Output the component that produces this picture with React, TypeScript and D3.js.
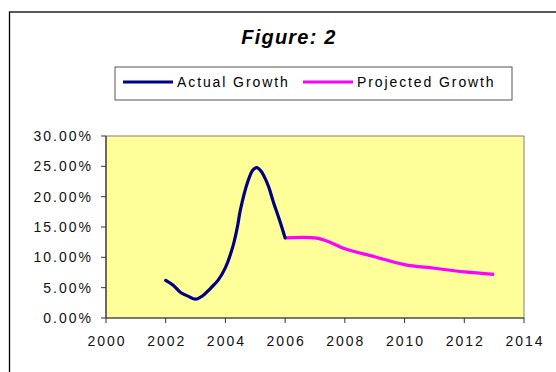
import React from "react";
import * as d3 from "d3";

const actualYears = [2002.0, 2002.25, 2002.5, 2002.75, 2003.0, 2003.25, 2003.5, 2003.75, 2004.0, 2004.25, 2004.4, 2004.5, 2004.75, 2004.92, 2005.05, 2005.18, 2005.3, 2005.45, 2005.6, 2005.8, 2006.0];
const actualValues = [6.2, 5.4, 4.2, 3.6, 3.1, 3.7, 4.9, 6.2, 8.3, 11.8, 15.0, 17.8, 22.5, 24.4, 24.8, 24.3, 23.3, 21.6, 19.2, 16.3, 13.2];
const projectedYears = [2006, 2007, 2007.5, 2008, 2009, 2010, 2011, 2012, 2013];
const projectedValues = [13.2, 13.2, 12.5, 11.4, 10.1, 8.8, 8.2, 7.6, 7.2];
const xTicks = [2000, 2002, 2004, 2006, 2008, 2010, 2012, 2014];
const yTicks = [0, 5, 10, 15, 20, 25, 30];
const seriesNames = ["Actual Growth", "Projected Growth"];
const seriesColors = ["#000080", "#FF00FF"];
const title = "Figure: 2";

const W = 556;
const H = 372;
const plot = { left: 106, right: 524, top: 136, bottom: 318 };
const FONT = "Arial, 'Liberation Sans', sans-serif";

export default function App() {
  const x = d3.scaleLinear().domain([2000, 2014]).range([plot.left, plot.right]);
  const y = d3.scaleLinear().domain([0, 30]).range([plot.bottom, plot.top]);
  const line = d3
    .line<[number, number]>()
    .x((d) => x(d[0]))
    .y((d) => y(d[1]))
    .curve(d3.curveCatmullRom.alpha(0.5));
  const actual = actualYears.map((yr, i) => [yr, actualValues[i]] as [number, number]);
  const projected = projectedYears.map((yr, i) => [yr, projectedValues[i]] as [number, number]);

  const legend = [
    { x1: 123, x2: 173, tx: 177 },
    { x1: 303, x2: 353, tx: 357 },
  ];

  return (
    <svg width={W} height={H} style={{ position: "absolute", left: 0, top: 0, background: "#fff" }}>
      <rect x={9.5} y={12} width={700} height={500} fill="#fff" stroke="#000" strokeWidth={1.3} />
      <text x={289} y={44} textAnchor="middle" fontFamily={FONT} fontSize={20} fontWeight="bold" fontStyle="italic" letterSpacing={1.2}>
        {title}
      </text>
      {/* legend */}
      <rect x={115} y={67} width={397} height={33} fill="#fff" stroke="#555" strokeWidth={1} />
      {legend.map((l, i) => (
        <g key={i}>
          <line x1={l.x1} x2={l.x2} y1={82} y2={82} stroke={seriesColors[i]} strokeWidth={3} />
          <text x={l.tx} y={87} fontFamily={FONT} fontSize={14} letterSpacing={1.9} fill="#000">
            {seriesNames[i]}
          </text>
        </g>
      ))}
      {/* plot area */}
      <rect x={plot.left} y={plot.top} width={plot.right - plot.left} height={plot.bottom - plot.top} fill="#FFFF99" stroke="#808080" strokeWidth={1} />
      <line x1={plot.left} x2={plot.left} y1={plot.top} y2={plot.bottom} stroke="#333" strokeWidth={1.2} />
      <line x1={plot.left} x2={plot.right} y1={plot.bottom} y2={plot.bottom} stroke="#333" strokeWidth={1.2} />
      {yTicks.map((t) => (
        <g key={"y" + t}>
          <line x1={plot.left - 5} x2={plot.left} y1={y(t)} y2={y(t)} stroke="#333" />
          <text x={93} y={y(t) + 5} textAnchor="end" fontFamily={FONT} fontSize={14} letterSpacing={2} fill="#111">
            {t.toFixed(2) + "%"}
          </text>
        </g>
      ))}
      {xTicks.map((t) => (
        <g key={"x" + t}>
          <line x1={x(t)} x2={x(t)} y1={plot.bottom} y2={plot.bottom + 5} stroke="#333" />
          <text x={x(t) + 1} y={346} textAnchor="middle" fontFamily={FONT} fontSize={14} letterSpacing={2} fill="#111">
            {t}
          </text>
        </g>
      ))}
      <path d={line(projected) || ""} fill="none" stroke={seriesColors[1]} strokeWidth={3.2} strokeLinejoin="round" />
      <path d={line(actual) || ""} fill="none" stroke={seriesColors[0]} strokeWidth={3.2} strokeLinejoin="round" strokeLinecap="round" />
    </svg>
  );
}
